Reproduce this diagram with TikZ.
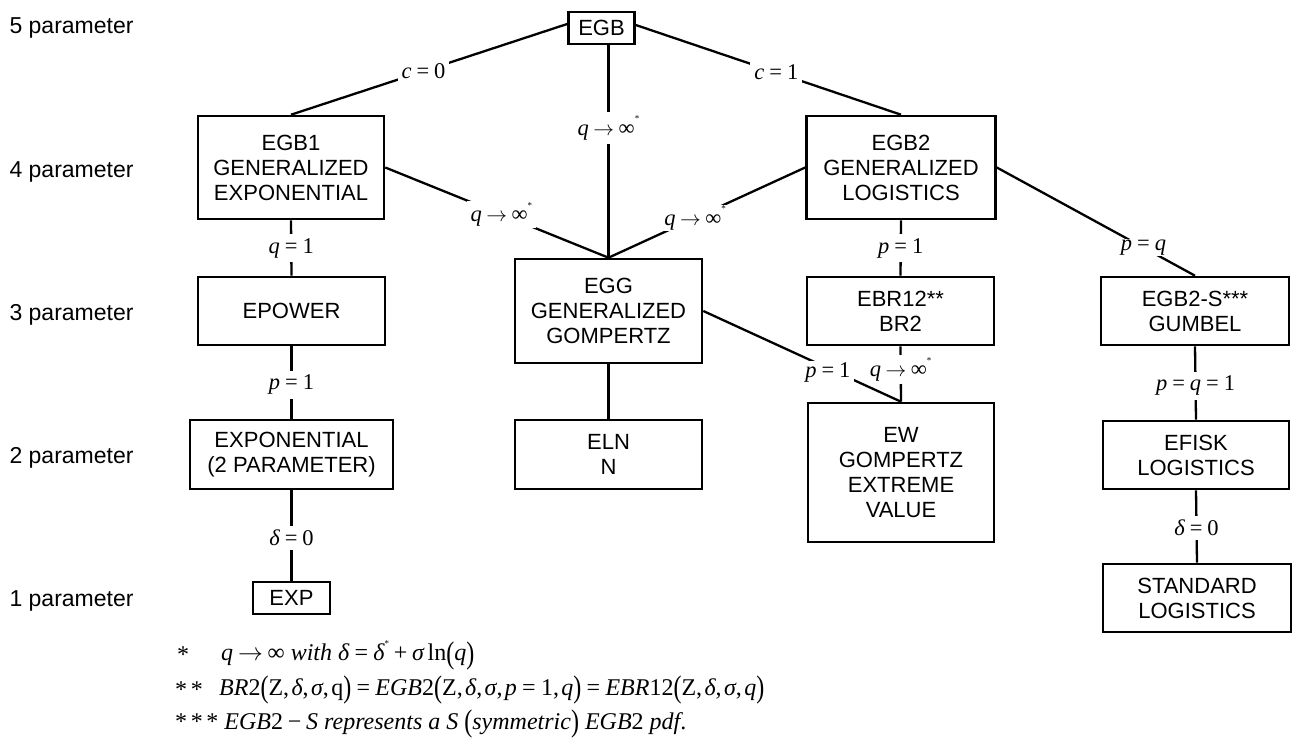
\documentclass[tikz,border=0pt]{standalone}
\usepackage{fontspec}
\usepackage{graphicx}
\setmainfont{Liberation Sans}
\newfontfamily\tms{Liberation Serif}
\newcommand\lpar{\raisebox{-0.1em}{\scalebox{1}[1.3]{(}}}
\newcommand\rpar{\raisebox{-0.1em}{\scalebox{1}[1.3]{)}}}
\newcommand\sst{\raisebox{0.6em}{\fontsize{9}{9}\selectfont *}}
\newcommand\eqk{\kern.22em=\kern.22em}
\newcommand\arr{\kern.2em$\rightarrow$\kern.2em}
\newcommand\qinf{{\itshape q}\arr∞\sst}
\begin{document}
\begin{tikzpicture}[x=1pt,y=-1pt,
  box/.style={draw, line width=2.6pt, align=center, inner sep=0pt,
    font=\fontsize{22}{25}\selectfont},
  conn/.style={line width=2.3pt},
  lbl/.style={fill=white, inner xsep=4pt, inner ysep=4pt,
    font=\tms\fontsize{22.5}{22.5}\selectfont},
  rowlab/.style={anchor=west, font=\fontsize{23}{23}\selectfont},
  fn/.style={anchor=west, inner sep=0pt, font=\tms\fontsize{24}{24}\selectfont}]
\useasboundingbox (0,0) rectangle (1298,742);

% row labels
\node[rowlab] (r5) at (6,28) {5 parameter};
\node[rowlab] (r4) at (6,172) {4 parameter};
\node[rowlab] (r3) at (6,315) {3 parameter};
\node[rowlab] (r2) at (6,458) {2 parameter};
\node[rowlab] (r1) at (6,601) {1 parameter};

% boxes
\node[box, minimum width=66, minimum height=32] (EGB) at (601.5,28) {EGB};
\node[box, minimum width=186, minimum height=103] (EGB1) at (291,167.5) {EGB1\\GENERALIZED\\EXPONENTIAL};
\node[box, minimum width=189, minimum height=103] (EGB2) at (901,167.5) {EGB2\\GENERALIZED\\LOGISTICS};
\node[box, minimum width=187, minimum height=68] (EPOWER) at (291.5,311) {EPOWER};
\node[box, minimum width=203, minimum height=69] (EXPON) at (291.5,454.5) {EXPONENTIAL\\(2 PARAMETER)};
\node[box, minimum width=77, minimum height=32] (EXP) at (291.5,598) {EXP};
\node[box, minimum width=187, minimum height=104] (EGG) at (608.5,311) {EGG\\GENERALIZED\\GOMPERTZ};
\node[box, minimum width=187, minimum height=69] (ELN) at (608.5,454.5) {ELN\\N};
\node[box, minimum width=187, minimum height=68] (EBR) at (900.5,311) {EBR12**\\BR2};
\node[box, minimum width=186, minimum height=139] (EW) at (901,472.5) {EW\\GOMPERTZ\\EXTREME\\VALUE};
\node[box, minimum width=188, minimum height=68] (EGBS) at (1195,311) {EGB2-S***\\GUMBEL};
\node[box, minimum width=186, minimum height=68] (EFISK) at (1196,455) {EFISK\\LOGISTICS};
\node[box, minimum width=188, minimum height=68] (STD) at (1197,598) {STANDARD\\LOGISTICS};

% connectors
\draw[conn] ([yshift=4pt]EGB.west) -- node[lbl,pos=0.52]{{\itshape c}\eqk 0} (EGB1.north);
\draw[conn] ([yshift=3pt]EGB.east) -- node[lbl,pos=0.53]{{\itshape c}\eqk 1} (EGB2.north);
\draw[conn] (EGB.south -| EGG.north) -- node[lbl,pos=0.39]{\qinf} (EGG.north);
\draw[conn] (EGB1.east) -- node[lbl,pos=0.52,inner ysep=1pt]{\qinf} (EGG.north);
\draw[conn] (EGB2.west) -- node[lbl,pos=0.56,inner ysep=1pt]{\qinf} (EGG.north);
\draw[conn] (EGB1.south) -- node[lbl,pos=0.5]{{\itshape q}\eqk 1} (EPOWER.north);
\draw[conn] (EPOWER.south) -- node[lbl,pos=0.53]{{\itshape p}\eqk 1} (EXPON.north);
\draw[conn] (EXPON.south) -- node[lbl,pos=0.53]{{\itshape δ}\eqk 0} (EXP.north);
\draw[conn] (EGG.south) -- (ELN.north);
\draw[conn] (EGB2.south) -- node[lbl,pos=0.5]{{\itshape p}\eqk 1} (EBR.north);
\draw[conn] (EGG.east) -- node[lbl,pos=0.63,yshift=-4pt,inner ysep=1pt]{{\itshape p}\eqk 1} (EW.north);
\draw[conn] (EBR.south) -- node[lbl,pos=0.42,inner ysep=2pt]{\qinf} (EW.north);
\draw[conn] (EGB2.east) -- node[lbl,pos=0.74,inner ysep=1pt]{{\itshape p}\eqk{\itshape q}} (EGBS.north);
\draw[conn] (EGBS.south) -- node[lbl,pos=0.54]{{\itshape p}\eqk{\itshape q}\eqk 1} (EFISK.north);
\draw[conn] (EFISK.south) -- node[lbl,pos=0.52]{{\itshape δ}\eqk 0} (STD.north);

% footnotes
\node[fn] (f1s) at (177,655) {*};
\node[fn] (f1) at (221,655) {{\itshape q}\arr∞ {\itshape with δ}\eqk{\itshape δ}\sst\kern.2em+\kern.2em{\itshape σ}\kern.15em ln\lpar{\itshape q}\rpar};
\node[fn] (f2s) at (175,690) {*\kern.15em*};
\node[fn] (f2) at (219,690) {{\itshape BR}2\lpar Z,\kern.1em{\itshape δ},\kern.1em{\itshape σ},\kern.1em q\rpar\eqk{\itshape EGB}2\lpar Z,\kern.1em{\itshape δ},\kern.1em{\itshape σ},\kern.1em{\itshape p}\eqk 1,\kern.1em{\itshape q}\rpar\eqk{\itshape EBR}12\lpar Z,\kern.1em{\itshape δ},\kern.1em{\itshape σ},\kern.1em{\itshape q}\rpar};
\node[fn] (f3) at (175,724) {*\kern.15em*\kern.15em* {\itshape EGB}2\kern.2em−\kern.2em{\itshape S represents a S} \lpar{\itshape symmetric}\rpar{} {\itshape EGB}2 {\itshape pdf}.};
\end{tikzpicture}
\end{document}
